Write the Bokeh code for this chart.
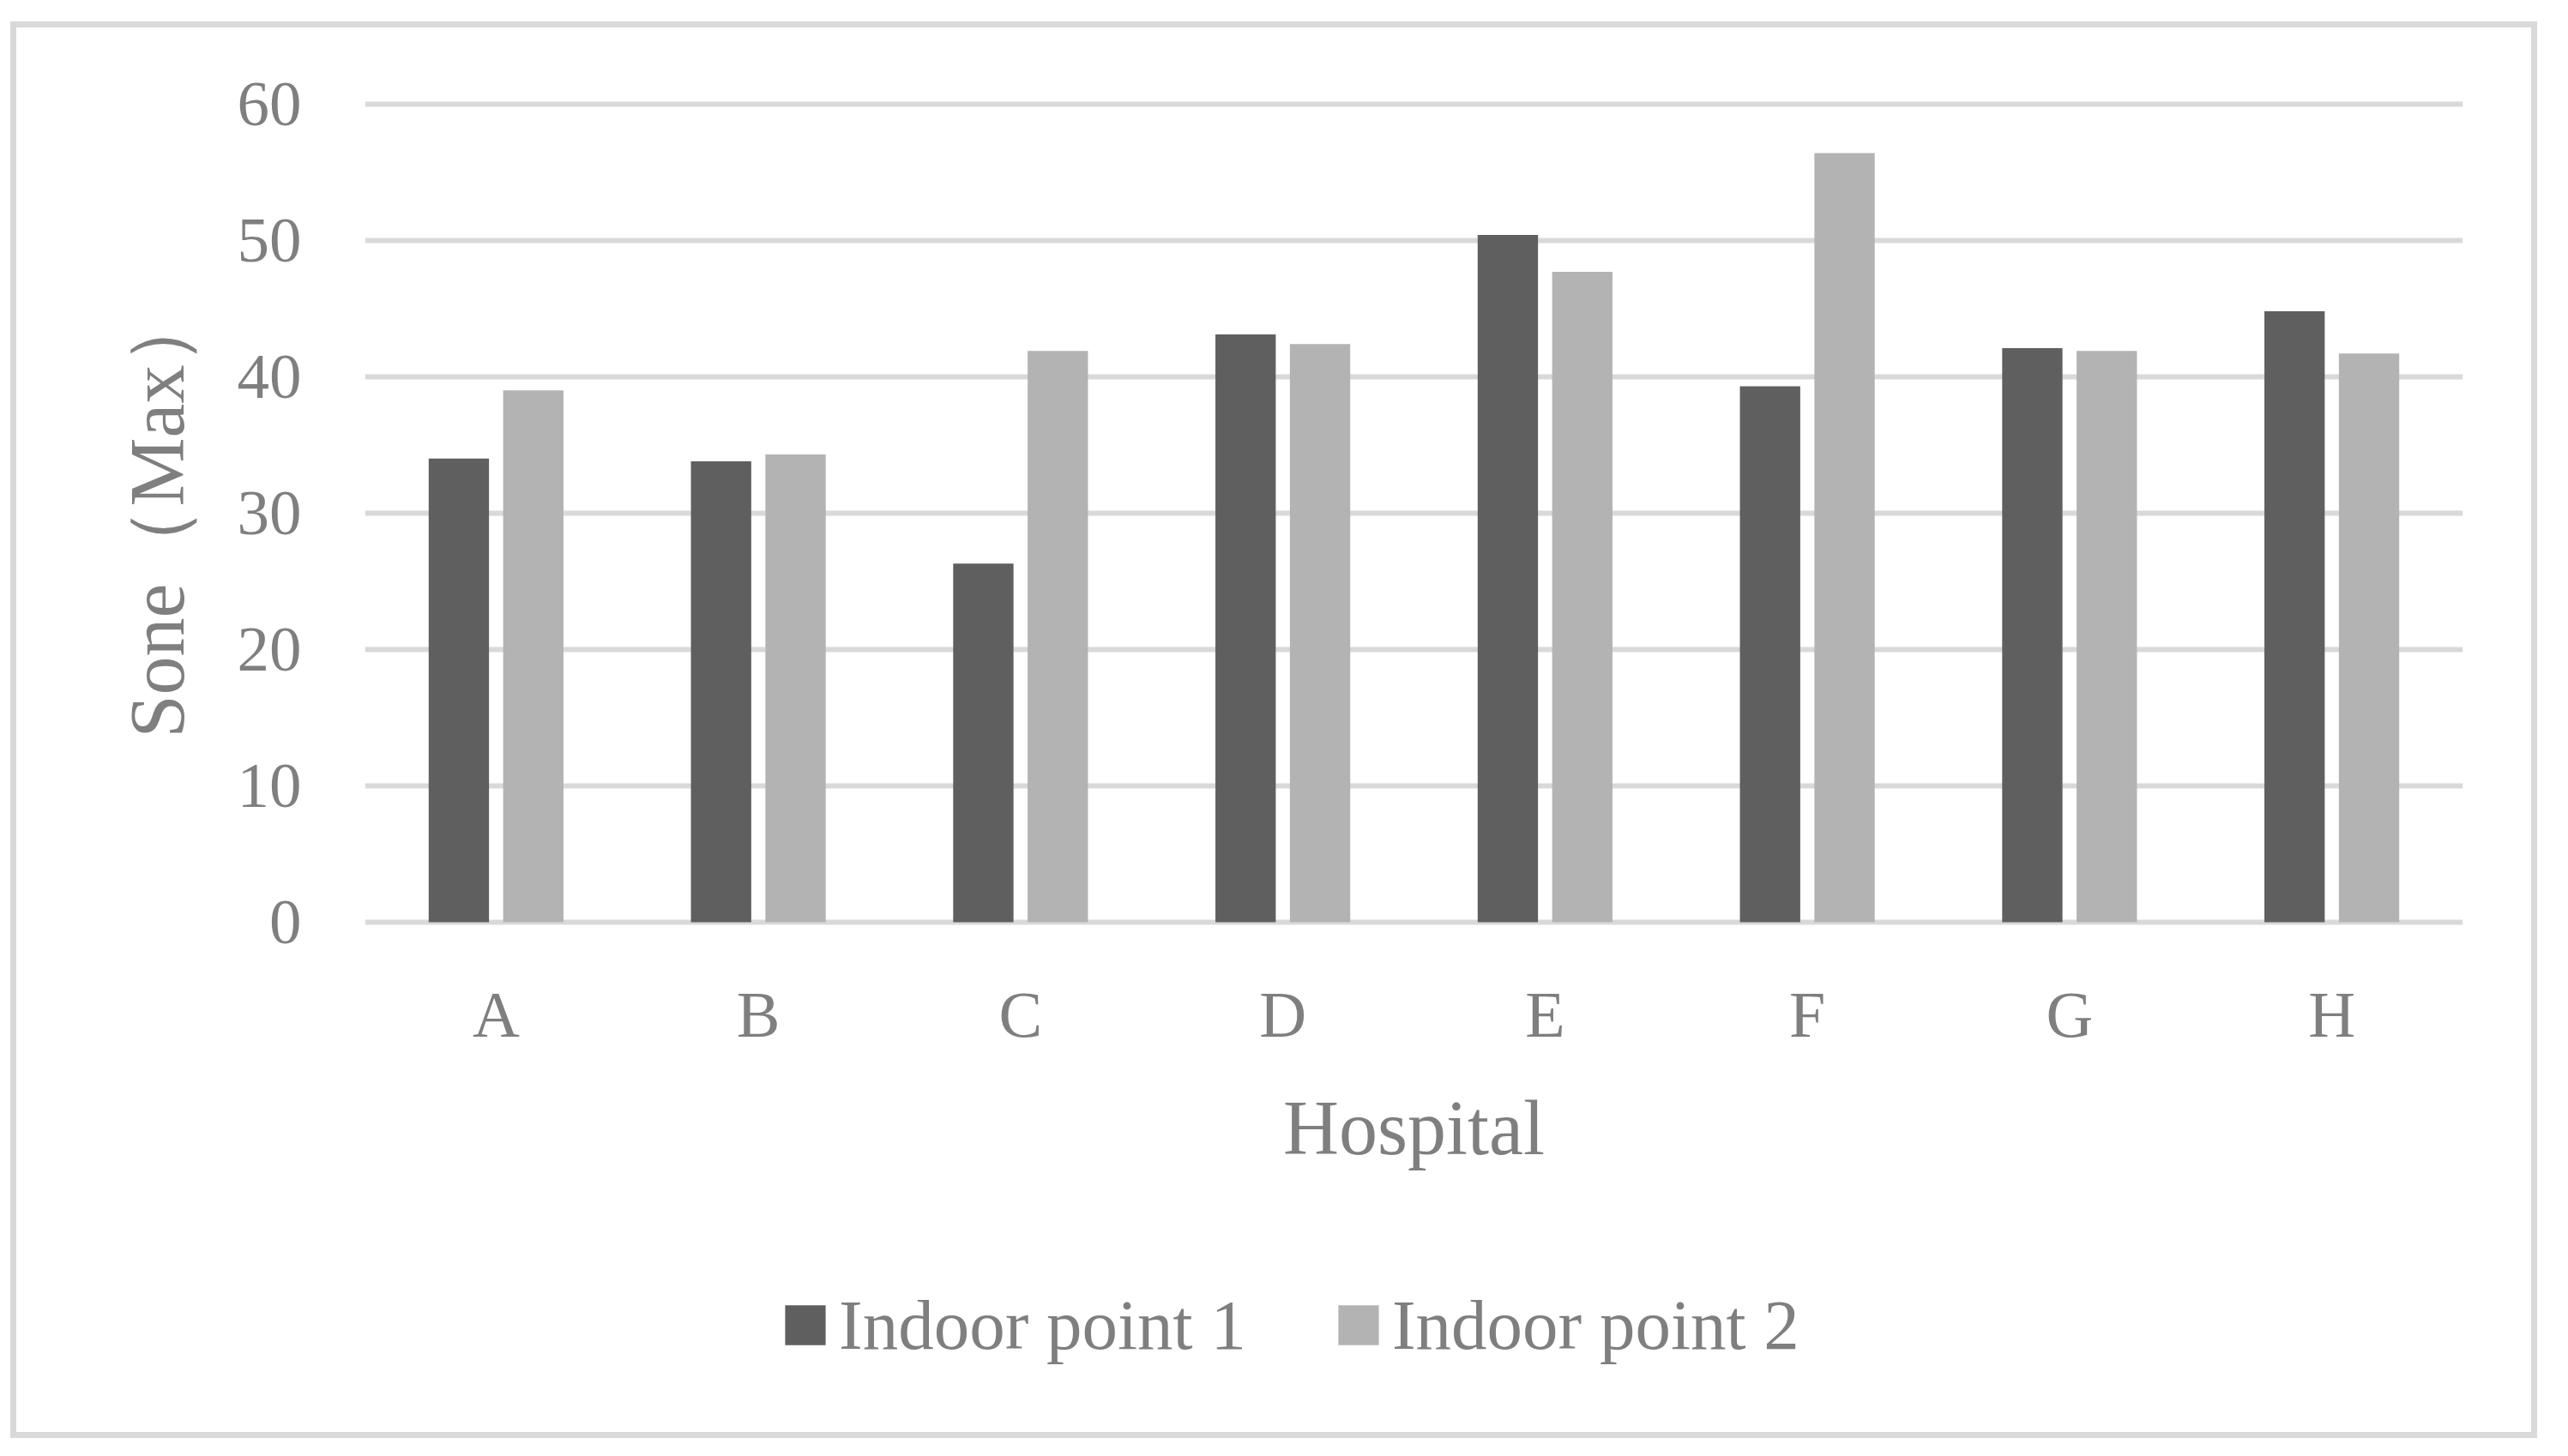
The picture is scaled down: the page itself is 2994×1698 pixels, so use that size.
from bokeh.plotting import figure
from bokeh.models import ColumnDataSource, FactorRange, Range1d, FixedTicker, Legend, LegendItem, Title
from bokeh.transform import dodge
from bokeh.embed import file_html
from bokeh.resources import INLINE

# ---- data ----
hospitals = ["A", "B", "C", "D", "E", "F", "G", "H"]
indoor_point_1 = [34.0, 33.8, 26.3, 43.1, 50.4, 39.3, 42.1, 44.8]
indoor_point_2 = [39.0, 34.3, 41.9, 42.4, 47.7, 56.4, 41.9, 41.7]
series_names = ["Indoor point 1", "Indoor point 2"]
y_ticks = [0, 10, 20, 30, 40, 50, 60]
x_title = "Hospital"
y_title = "Sone（Max）"

# ---- style ----
FONT = "Liberation Serif"
TEXT = "#7f7f7f"
GRID = "#d9d9d9"
DARK = "#5f5f5f"
LIGHT = "#b3b3b3"

src = ColumnDataSource(dict(hospital=hospitals, p1=indoor_point_1, p2=indoor_point_2))

# frame extends below the value axis so that the legend fits inside it
p = figure(
    x_range=FactorRange(*hospitals),
    y_range=Range1d(-36.4, 60.3),
    width=2932, height=1638,
    min_border_left=406, min_border_right=94,
    min_border_top=84, min_border_bottom=30,
    output_backend="svg", toolbar_location=None,
)
p.styles = {"border": "7px solid #d9d9d9", "box-sizing": "content-box",
            "transform": "translate(12px, 25px)"}
p.outline_line_color = None
p.background_fill_color = "white"
p.border_fill_color = "white"

r1 = p.vbar(x=dodge("hospital", -0.142, range=p.x_range), top="p1", bottom=0,
            width=0.23, source=src, fill_color=DARK, line_color=None)
r2 = p.vbar(x=dodge("hospital", 0.142, range=p.x_range), top="p2", bottom=0,
            width=0.23, source=src, fill_color=LIGHT, line_color=None)

p.xgrid.visible = False
p.ygrid.ticker = FixedTicker(ticks=y_ticks)
p.ygrid.grid_line_color = GRID
p.ygrid.grid_line_width = 6

p.yaxis.ticker = FixedTicker(ticks=y_ticks)
p.xaxis.fixed_location = 0
for ax in (p.xaxis[0], p.yaxis[0]):
    ax.axis_line_color = None
    ax.major_tick_line_color = None
    ax.minor_tick_line_color = None
    ax.major_label_text_font = FONT
    ax.major_label_text_color = TEXT
    ax.axis_label_text_font = FONT
    ax.axis_label_text_color = TEXT
    ax.axis_label_text_font_style = "normal"
    ax.axis_label_text_font_size = "90px"

p.yaxis.major_label_text_font_size = "75px"
p.yaxis.major_label_standoff = 68

p.xaxis.major_label_text_font_size = "76px"
p.xaxis.major_label_standoff = 59
p.xaxis.axis_label = x_title
p.xaxis.axis_label_standoff = 38

# value-axis title, centred on the 0..60 part of the frame
ytitle = Title(text=y_title, align="left", offset=794, standoff=82,
               text_font=FONT, text_font_size="90px", text_font_style="normal",
               text_color=TEXT)
p.add_layout(ytitle, "left")

legend = Legend(
    items=[LegendItem(label=series_names[0], renderers=[r1]),
           LegendItem(label=series_names[1], renderers=[r2])],
    orientation="horizontal", location=(484, 61),
    glyph_width=59, glyph_height=58, label_standoff=10, spacing=101,
    padding=0, margin=0, border_line_color=None, background_fill_alpha=0,
    label_text_font=FONT, label_text_font_size="83px", label_text_color=TEXT,
)
p.add_layout(legend, "center")

open("out.html", "w").write(file_html(p, INLINE))
